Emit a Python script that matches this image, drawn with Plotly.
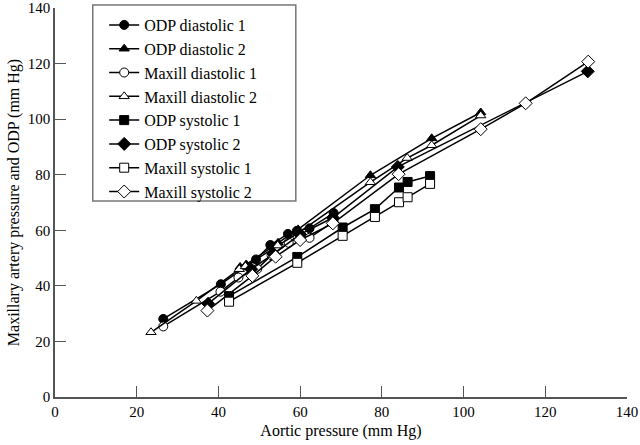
import plotly.graph_objects as go

# ODP / maxillary pressures vs aortic pressure (mm Hg)
odp_dia1_x = [26.5, 40.6, 49.2, 52.7, 57.0, 59.2, 62.3, 68.2]
odp_dia1_y = [28.1, 40.6, 49.5, 54.7, 58.7, 59.8, 60.7, 66.2]

odp_dia2_x = [45.3, 46.8, 54.6, 59.5, 77.2, 92.2, 104.2]
odp_dia2_y = [46.8, 47.7, 55.5, 60.3, 79.8, 93.1, 102.4]

max_dia1_x = [26.5, 40.5, 44.9, 49.5, 53.0, 57.2, 59.4, 62.3, 68.2]
max_dia1_y = [25.4, 37.9, 43.0, 46.1, 51.0, 55.5, 57.4, 57.3, 63.1]

max_dia2_x = [23.5, 34.6, 45.1, 46.6, 54.5, 59.5, 77.2, 86.2, 92.2, 104.2]
max_dia2_y = [23.3, 34.6, 46.0, 47.0, 54.5, 59.0, 77.3, 86.0, 90.6, 101.3]

odp_sys1_x = [42.6, 59.3, 70.4, 78.3, 84.2, 86.3, 91.8]
odp_sys1_y = [36.3, 50.4, 61.0, 67.6, 75.4, 77.4, 79.5]

odp_sys2_x = [37.5, 48.0, 53.5, 60.0, 68.0, 83.9, 130.4]
odp_sys2_y = [33.6, 46.0, 51.5, 58.5, 64.5, 82.8, 117.2]

max_sys1_x = [42.6, 59.3, 70.4, 78.3, 84.2, 86.3, 91.8]
max_sys1_y = [34.3, 48.3, 58.0, 64.8, 70.1, 71.9, 76.7]

max_sys2_x = [37.3, 48.3, 54.0, 60.0, 68.0, 84.1, 104.2, 115.2, 130.5]
max_sys2_y = [31.1, 43.6, 50.5, 56.5, 62.5, 80.2, 96.4, 105.7, 120.7]

series = [
    ("ODP diastolic 1", odp_dia1_x, odp_dia1_y, "circle"),
    ("ODP diastolic 2", odp_dia2_x, odp_dia2_y, "triangle-up"),
    ("Maxill diastolic 1", max_dia1_x, max_dia1_y, "circle-open"),
    ("Maxill diastolic 2", max_dia2_x, max_dia2_y, "triangle-up-open"),
    ("ODP systolic 1", odp_sys1_x, odp_sys1_y, "square"),
    ("ODP systolic 2", odp_sys2_x, odp_sys2_y, "diamond"),
    ("Maxill systolic 1", max_sys1_x, max_sys1_y, "square-open"),
    ("Maxill systolic 2", max_sys2_x, max_sys2_y, "diamond-open"),
]

SERIF = "Liberation Serif, Times New Roman, Times, serif"

fig = go.Figure()

for name, xs, ys, sym in series:
    open_sym = sym.endswith("-open")
    fig.add_trace(go.Scatter(
        x=xs, y=ys,
        mode="lines+markers",
        name=name,
        line=dict(color="black", width=1.5),
        marker=dict(
            symbol=sym.replace("-open", ""),
            size=9 if "diamond" not in sym else 10,
            color="white" if open_sym else "black",
            line=dict(color="black", width=1),
        ),
    ))

axis_common = dict(
    showgrid=False,
    zeroline=False,
    showline=True,
    linecolor="#555555",
    linewidth=1.5,
    ticks="inside",
    ticklen=11,
    tickcolor="#555555",
    tickwidth=1,
    tickfont=dict(size=15, color="black", family=SERIF),
    dtick=20,
    automargin=False,
)

# legend frame is drawn as a shape so it can be wider than plotly's own box
fig.add_shape(
    type="rect", xref="paper", yref="paper",
    x0=0.066, x1=0.421, y0=0.504, y1=1.008,
    line=dict(color="#777777", width=1.5),
    fillcolor="white", layer="below",
)

fig.update_layout(
    width=640,
    height=445,
    margin=dict(l=55, r=13, t=8, b=48),
    paper_bgcolor="white",
    plot_bgcolor="white",
    font=dict(family=SERIF, color="black"),
    xaxis=dict(range=[0, 140],
               title=dict(text="Aortic pressure (mm Hg)", font=dict(size=16, family=SERIF), standoff=6),
               **axis_common),
    yaxis=dict(range=[0, 140],
               title=dict(text="Maxillary artery pressure and ODP (mm Hg)", font=dict(size=16, family=SERIF), standoff=4),
               **axis_common),
    legend=dict(
        x=0.086, y=1.0, xanchor="left", yanchor="top",
        bgcolor="rgba(0,0,0,0)",
        borderwidth=0,
        font=dict(size=16, family=SERIF),
        tracegroupgap=0,
    ),
    showlegend=True,
)

# page has a default 8px body margin; drop it so the figure sits at the window corner
fig.write_html(
    "out.html",
    config={"displayModeBar": False},
    post_script="document.body.style.margin='0';document.body.style.overflow='hidden';",
)
